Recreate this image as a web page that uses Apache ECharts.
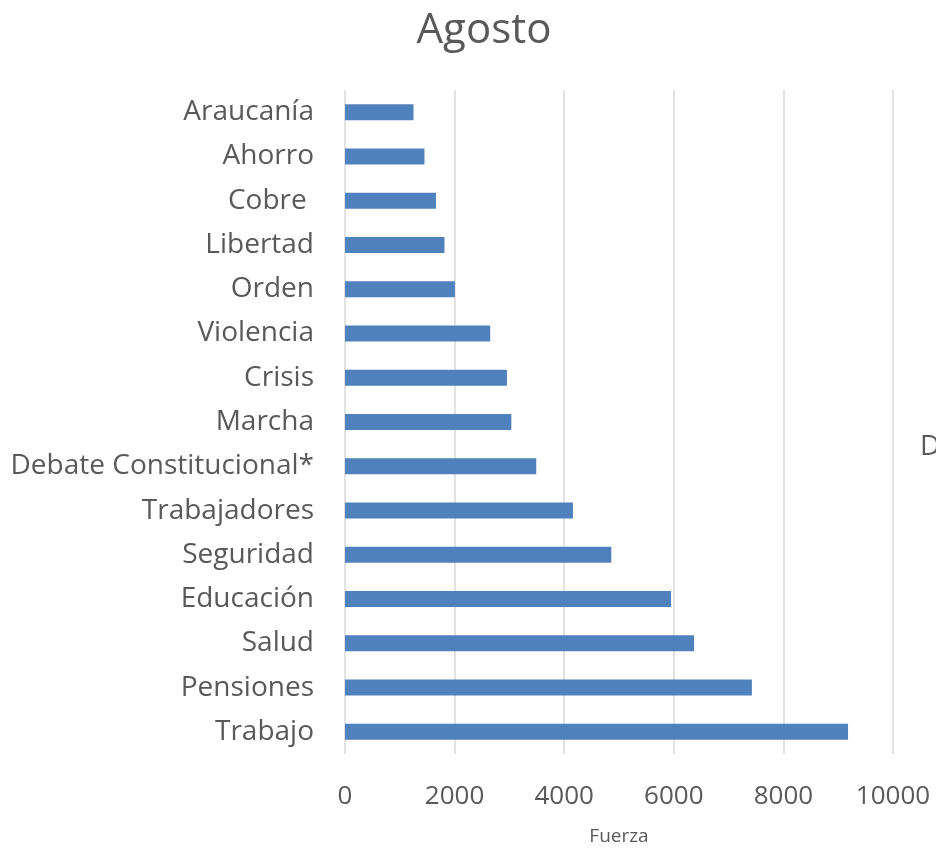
<!DOCTYPE html>
<html>
<head>
<meta charset="utf-8">
<script src="https://cdn.jsdelivr.net/npm/echarts@6/dist/echarts.min.js"></script>
<style>
  html, body { margin: 0; padding: 0; background: #fff; }
  #chart { width: 936px; height: 851px; }
</style>
</head>
<body>
<div id="chart"></div>
<script>
// categories listed bottom to top
var temas = ['Trabajo', 'Pensiones', 'Salud', 'Educación', 'Seguridad', 'Trabajadores',
  'Debate Constitucional*', 'Marcha', 'Crisis', 'Violencia', 'Orden', 'Libertad',
  'Cobre ', 'Ahorro', 'Araucanía'];
var fuerza = [9180, 7425, 6370, 5950, 4860, 4160, 3490, 3035, 2955, 2650, 2005, 1815, 1660, 1450, 1250];
var ejeX = { min: 0, max: 10000, interval: 2000 };

var gris = '#595959';
var fuente = 'Open Sans';

var myChart = echarts.init(document.getElementById('chart'));

myChart.setOption({
    animation: false,
    title: {
        text: 'Agosto',
        left: 479,
        textAlign: 'center',
        top: 5,
        textStyle: { fontFamily: fuente, fontSize: 42, fontWeight: 'normal', color: gris }
    },
    grid: { left: 345, right: 43, top: 90, bottom: 93 },
    xAxis: {
        type: 'value',
        min: ejeX.min,
        max: ejeX.max,
        interval: ejeX.interval,
        name: 'Fuerza',
        nameLocation: 'middle',
        nameGap: 73,
        nameTextStyle: { fontFamily: fuente, fontSize: 19, color: gris },
        axisLine: { show: false },
        axisTick: { show: false },
        axisLabel: {
            margin: 30, fontFamily: fuente, fontSize: 26, color: gris,
            formatter: function (v) { return String(v); }
        },
        splitLine: { lineStyle: { color: '#d9d9d9', width: 1.5 } }
    },
    yAxis: {
        type: 'category',
        data: temas,
        axisLine: { show: false },
        axisTick: { show: false },
        axisLabel: { margin: 31, padding: [4, 0, 0, 0], fontFamily: fuente, fontSize: 28, color: gris }
    },
    series: [{
        name: 'Fuerza',
        type: 'bar',
        data: fuerza,
        barWidth: 16,
        itemStyle: { color: '#4f81bd' }
    }],
    graphic: [{
        type: 'text',
        left: 920,
        top: 433,
        style: { text: 'D', fontFamily: fuente, fontSize: 28, fill: gris }
    }]
});
</script>
</body>
</html>
